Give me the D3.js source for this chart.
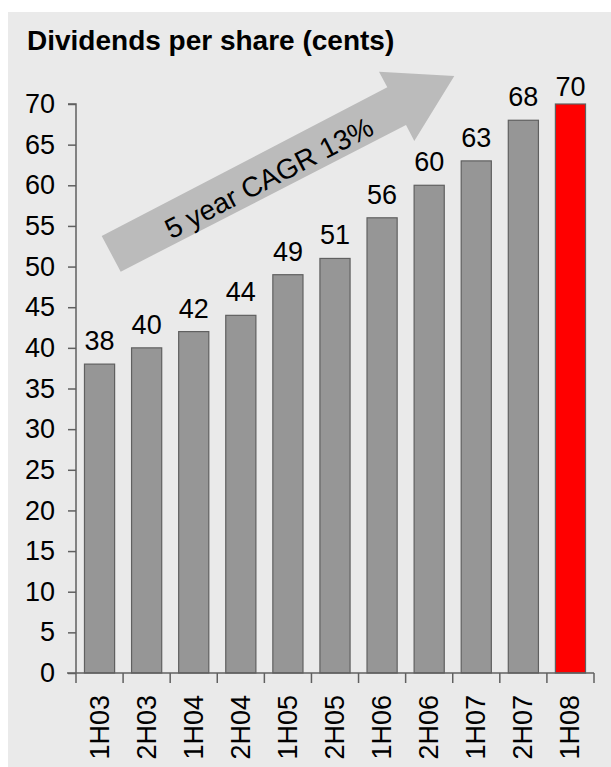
<!DOCTYPE html>
<html>
<head>
<meta charset="utf-8">
<script src="https://cdn.jsdelivr.net/npm/d3@7"></script>
<style>
  html, body { margin: 0; padding: 0; background: #ffffff; }
  svg { display: block; }
  text { font-family: "Liberation Sans", Arial, sans-serif; fill: #000; }
</style>
</head>
<body>
<script>
const categories = ["1H03","2H03","1H04","2H04","1H05","2H05","1H06","2H06","1H07","2H07","1H08"];
const dividends = [38, 40, 42, 44, 49, 51, 56, 60, 63, 68, 70];
const highlight = ["1H08"];
const yTicks = [0,5,10,15,20,25,30,35,40,45,50,55,60,65,70];
const title = "Dividends per share (cents)";
const arrowLabel = "5 year CAGR 13%";

const W = 611, H = 767;
const svg = d3.select("body").append("svg").attr("width", W).attr("height", H);

// panel background
svg.append("rect").attr("x", 8).attr("y", 12).attr("width", W - 8).attr("height", H - 12)
  .attr("fill", "#eaeaea");

svg.append("text").attr("x", 27).attr("y", 50)
  .attr("font-size", 28).attr("font-weight", "bold").text(title);

const x = d3.scaleBand().domain(categories).range([76, 594]).paddingInner(0.36).paddingOuter(0.18);
const y = d3.scaleLinear().domain([0, 70]).range([673, 104]);

const axisColor = "#606060";

// bars
svg.append("g").selectAll("rect").data(categories).join("rect")
  .attr("x", d => x(d))
  .attr("y", (d, i) => y(dividends[i]))
  .attr("width", x.bandwidth())
  .attr("height", (d, i) => y(0) - y(dividends[i]))
  .attr("fill", d => highlight.includes(d) ? "#ff0000" : "#969696")
  .attr("stroke", "#606060").attr("stroke-width", 1.2);

// value labels
svg.append("g").selectAll("text").data(categories).join("text")
  .attr("x", d => x(d) + x.bandwidth() / 2)
  .attr("y", (d, i) => Math.max(y(dividends[i]) - 14, 96))
  .attr("text-anchor", "middle").attr("font-size", 27)
  .text((d, i) => dividends[i]);

// y axis
const yAxis = d3.axisLeft(y).tickValues(yTicks).tickSize(8).tickPadding(13).tickFormat(d3.format("d"));
const gy = svg.append("g").attr("transform", "translate(76,0)").call(yAxis);
gy.select(".domain").attr("stroke", axisColor).attr("stroke-width", 1.5).attr("d", `M-8,${y(70)}H0V${y(0)}`);
gy.selectAll(".tick line").attr("stroke", axisColor).attr("stroke-width", 1.5);
gy.selectAll(".tick text").attr("font-size", 27).attr("font-family", "Liberation Sans, Arial, sans-serif").attr("fill", "#000");

// x axis line and ticks between categories
const step = x.step();
const x0 = x.range()[0];
const tickPos = d3.range(categories.length + 1).map(i => x0 + i * step);
svg.append("line").attr("x1", 67).attr("x2", x.range()[1]).attr("y1", y(0)).attr("y2", y(0))
  .attr("stroke", axisColor).attr("stroke-width", 1.5);
svg.append("g").selectAll("line").data(tickPos).join("line")
  .attr("x1", d => d).attr("x2", d => d).attr("y1", y(0)).attr("y2", y(0) + 10)
  .attr("stroke", axisColor).attr("stroke-width", 1.5);

// x labels rotated
svg.append("g").selectAll("text").data(categories).join("text")
  .attr("transform", d => `translate(${x(d) + x.bandwidth() / 2},695) rotate(-90)`)
  .attr("text-anchor", "end").attr("dominant-baseline", "central")
  .attr("font-size", 27).text(d => d);

// growth arrow annotation
const arrowPts = [[101.7,236],[387.3,87.3],[379,71.7],[454.3,76],[414.3,141],[406,125],[120.7,271.7]];
svg.append("polygon").attr("points", arrowPts.map(p => p.join(",")).join(" "))
  .attr("fill", "#bbbbbb");
svg.append("text")
  .attr("transform", "translate(269,178) rotate(-27.4)")
  .attr("text-anchor", "middle").attr("dominant-baseline", "central")
  .attr("font-size", 28).text(arrowLabel);
</script>
</body>
</html>
